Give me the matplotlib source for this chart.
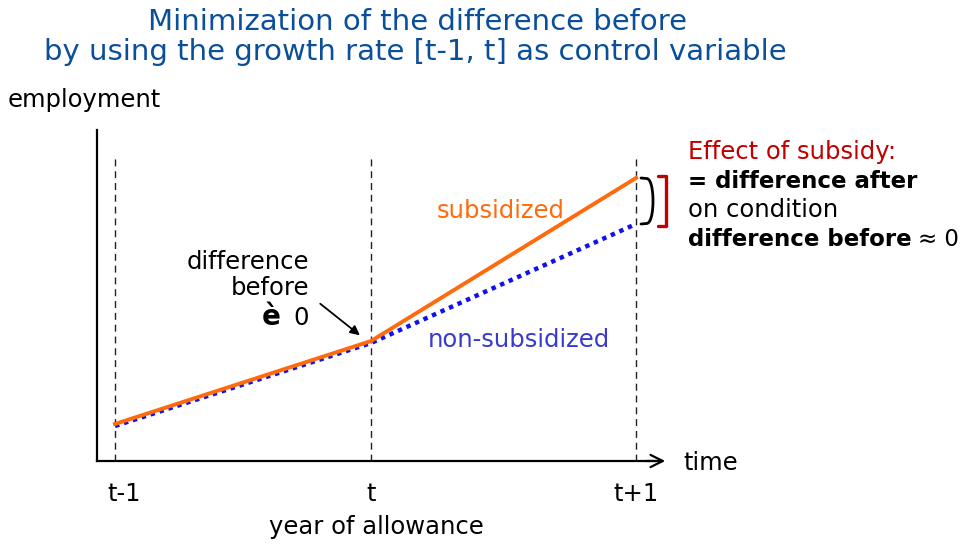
import numpy as np
import matplotlib
matplotlib.use("Agg")
import matplotlib.pyplot as plt
from matplotlib.transforms import ScaledTranslation

# data: positions on the time axis and employment levels
periods = [0, 0.983, 2]
period_labels = ["t-1", "t", "t+1"]
subsidized = [0.37, 1.20, 2.83]
non_subsidized = [0.35, 1.18, 2.37]

ORANGE = "#FF6A0D"
BLUE = "#1010F0"
TITLE_BLUE = "#0B4F9A"
RED = "#C00000"
FS = 17.5

plt.rcParams["font.family"] = ["DejaVu Sans"]

W, H = 969, 545
fig = plt.figure(figsize=(W / 100, H / 100), dpi=100)
# axes box in pixels: left 97, right 660, bottom 461, top 130
ax = fig.add_axes([97 / W, (H - 461) / H, (660 - 97) / W, (461 - 130) / H])
ax.set_xlim(-18 / 260.5, 545 / 260.5)
ax.set_ylim(0, 3.31)
for s in ["top", "right"]:
    ax.spines[s].set_visible(False)
for s in ["left", "bottom"]:
    ax.spines[s].set_linewidth(1.6)
ax.set_yticks([])
ax.set_xticks(periods)
ax.set_xticklabels(period_labels, fontsize=FS)
ax.tick_params(axis="x", length=0, pad=15)
lbl = ax.get_xticklabels()[0]
lbl.set_transform(lbl.get_transform() + ScaledTranslation(9 / 100, 0, fig.dpi_scale_trans))

# arrow head on the time axis
ax.annotate("", xy=(1.0 + 8 / 563, 0), xycoords="axes fraction",
            xytext=(0.97, 0), textcoords="axes fraction",
            arrowprops=dict(arrowstyle="->", lw=1.6, color="black",
                            mutation_scale=22), annotation_clip=False)

# dashed verticals
ax.vlines(periods, 0, 3.03, colors="#222222", linestyles=(0, (5, 3.5)), lw=1.0)

# lines
ax.plot(periods, non_subsidized, color=BLUE, lw=3.2, ls=(0, (1, 1.1)), zorder=3)
ax.plot(periods, subsidized, color=ORANGE, lw=2.8, zorder=4)

# brackets at t+1
top, bot = subsidized[2], non_subsidized[2]
xb = periods[2] + 5 / 260.5
xr = periods[2] + 22 / 260.5
w = 12 / 260.5
h = (top - bot)
tt = np.linspace(0, 1, 80)
bx = xb + w * np.sin(np.pi * tt) ** 0.2
by = top - h * tt
ax.plot(bx, by, color="black", lw=2.0, clip_on=False, solid_capstyle="round")
ax.plot([xr, xr + w * 0.7, xr + w * 0.7, xr],
        [top + 0.02, top + 0.02, bot - 0.02, bot - 0.02],
        color=RED, lw=2.4, clip_on=False, solid_joinstyle="round",
        solid_capstyle="round")

# labels on the chart
ax.text(1.482, 2.5, "subsidized", color=ORANGE, fontsize=FS, ha="center", va="center")
ax.text(1.55, 1.21, "non-subsidized", color="#3A3AD0", fontsize=FS, ha="center", va="center")
ax.text(0.745, 1.86, "difference\nbefore", fontsize=FS, ha="right", va="center",
        linespacing=1.08)
ax.text(0.745, 1.43, "0", fontsize=FS, ha="right", va="center")
ax.text(0.635, 1.44, "è", fontsize=20, fontweight="bold", ha="right", va="center")
ax.annotate("", xy=(periods[1] - 9 / 260.5, subsidized[1] + 0.04),
            xytext=(periods[1] - 53 / 260.5, 1.59),
            arrowprops=dict(arrowstyle="-|>", lw=1.3, color="black", mutation_scale=14))

# axis titles
fig.text(8 / W, 1 - 100 / H, "employment", fontsize=FS, va="center")
fig.text(683 / W, 1 - 463 / H, "time", fontsize=FS, va="center")
fig.text(376 / W, 1 - 527 / H, "year of allowance", fontsize=FS, va="center", ha="center")

# title
fig.text(417 / W, 1 - 22 / H, "Minimization of the difference before",
         fontsize=21, color=TITLE_BLUE, ha="center", va="center")
fig.text(415 / W, 1 - 52 / H, "by using the growth rate [t-1, t] as control variable",
         fontsize=21, color=TITLE_BLUE, ha="center", va="center")

# explanation on the right
x0 = 688 / W
RS = 16.5
fig.text(x0, 1 - 152 / H, "Effect of subsidy:", fontsize=RS + 1, color=RED, va="center")
fig.text(x0, 1 - 182 / H, "= difference after", fontsize=RS, fontweight="bold", va="center")
fig.text(x0, 1 - 210 / H, "on condition", fontsize=RS + 1, va="center")
t1 = fig.text(x0, 1 - 240 / H, "difference before", fontsize=RS, fontweight="bold", va="center")
fig.canvas.draw()
bb = t1.get_window_extent()
fig.text((bb.x1 + 6) / W, 1 - 240 / H, "≈ 0", fontsize=RS, va="center")

fig.savefig("out.png", dpi=100)
